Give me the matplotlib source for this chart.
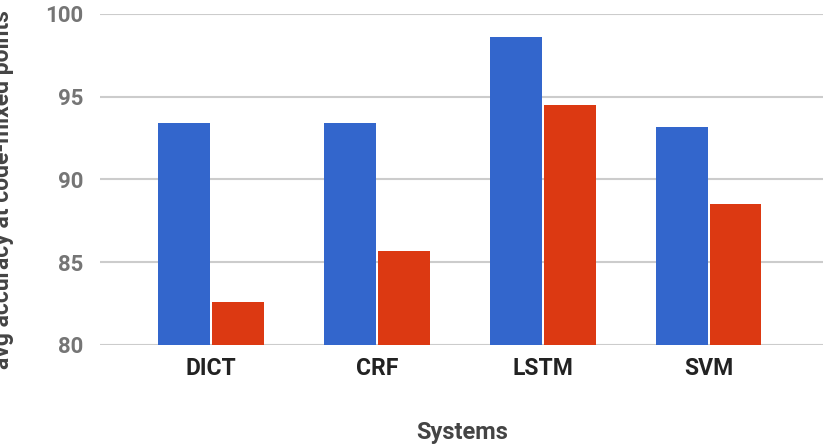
import numpy as np
import matplotlib.pyplot as plt

plt.rcParams['font.family'] = ['Roboto', 'DejaVu Sans']

# Data
systems = ['DICT', 'CRF', 'LSTM', 'SVM']
series_a = [93.4, 93.4, 98.6, 93.2]   # blue
series_b = [82.6, 85.7, 94.5, 88.5]   # red
yticks = [80, 85, 90, 95, 100]

blue = '#3366cc'
red = '#dc3912'

fig = plt.figure(figsize=(8.27, 4.44), dpi=100)
ax = fig.add_axes([0.1209, 0.223, 0.8743, 0.7455])

x = np.arange(len(systems))
w = 0.312
ax.bar(x - w / 2 - 0.006, np.array(series_a) - 80, width=w, bottom=80, color=blue, zorder=3)
ax.bar(x + w / 2 + 0.006, np.array(series_b) - 80, width=w, bottom=80, color=red, zorder=3)

ax.set_ylim(80, 100)
ax.set_xlim(-0.67, 3.69)
ax.set_yticks(yticks)
ax.set_xticks(x)
ax.set_xticklabels(systems, fontsize=16.5, fontweight='bold', color='#222222')
ax.tick_params(axis='x', length=0, pad=9)
ax.tick_params(axis='y', length=0, pad=12, labelsize=16, labelcolor='#757575')
for lbl in ax.get_yticklabels():
    lbl.set_fontweight('bold')

ax.grid(axis='y', color='#cccccc', linewidth=1.5, zorder=0)
for s in ['top', 'right', 'left', 'bottom']:
    ax.spines[s].set_visible(False)

fig.text(0.5585, 0.027, 'Systems', ha='center', va='center', fontsize=17,
         fontweight='bold', color='#444444')
fig.text(0.017, 0.572, 'avg accuracy at code-mixed points', rotation=90, ha='right',
         va='center', fontsize=16.5, fontweight='bold', color='#444444')

fig.savefig('out.png', dpi=100)
